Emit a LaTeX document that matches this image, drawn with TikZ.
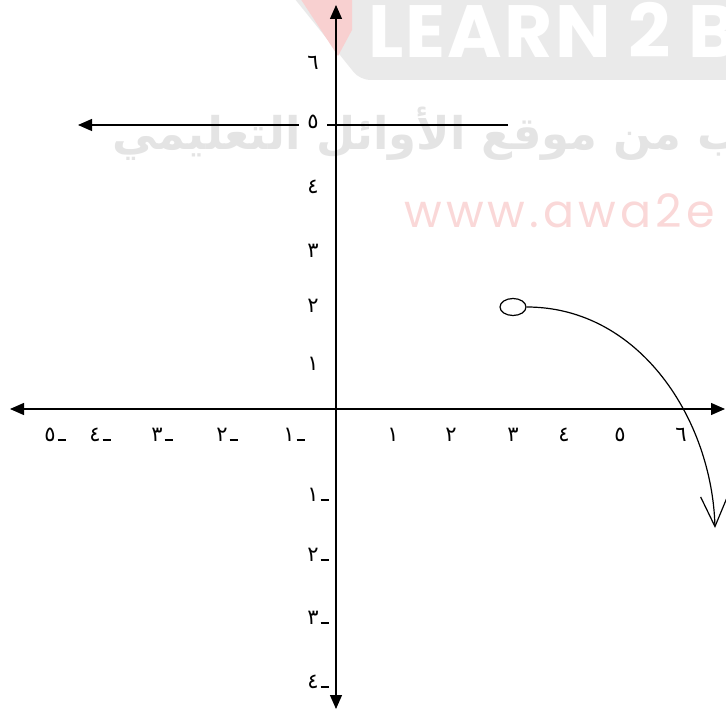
\documentclass[tikz,border=0pt]{standalone}
\usepackage{fontspec}
\usetikzlibrary{arrows.meta,shapes.geometric}
\TeXXeTstate=1
\newfontfamily\digitfont[Script=Arabic]{DejaVu Sans}
\newfontfamily\arabicfont[Script=Arabic]{DejaVu Sans}
\newfontfamily\wmfont[LetterSpace=3]{Poppins}
\newfontfamily\wmfontsp[LetterSpace=9]{Poppins}
\definecolor{wmgray}{RGB}{234,234,234}
\definecolor{wmtext}{RGB}{228,228,228}
\definecolor{wmpink}{RGB}{250,216,216}
\definecolor{wmred}{RGB}{248,208,208}
\newcommand{\negdash}{\kern2pt\rule{8pt}{1.8pt}}
\begin{document}
\begin{tikzpicture}[x=1pt,y=-1pt,
  axis/.style={line width=1.3pt,{Triangle[length=14pt,width=12pt]}-{Triangle[length=14pt,width=12pt]}},
  halfline/.style={line width=1.2pt,-{Triangle[length=14pt,width=12pt]}},
  curveline/.style={line width=1.2pt,-{Straight Barb[length=30pt,width=27pt,line width=1.2pt]}},
  lab/.style={font=\digitfont\fontsize{21}{21}\selectfont,inner sep=0pt,anchor=base},
  openpt/.style={draw,ellipse,line width=1.2pt,minimum width=26pt,minimum height=17pt,inner sep=0pt}]
\useasboundingbox (0,0) rectangle (726,711);
\clip (0,0) rectangle (726,711);
% watermark
\fill[wmgray,rounded corners=10pt] (286,-12) -- (745,-12) -- (745,80) -- (360,80) -- cycle;
\fill[wmred] (300,-2) -- (352,-2) -- (352,30) -- (338,56) -- cycle;
\node[anchor=base west,text=white,inner sep=0pt,font=\wmfont\bfseries\fontsize{74}{74}\selectfont] (wm1) at (368,58) {LEARN 2 BE};
\node[anchor=base west,text=wmtext,inner sep=0pt,font=\arabicfont\bfseries\fontsize{45}{45}\selectfont] (wm2) at (112,150) {\beginR ـب من موقع الأوائل التعليمي\endR};
\node[anchor=base west,text=wmpink,inner sep=0pt,font=\wmfontsp\fontsize{46}{46}\selectfont] (wm3) at (404,228) {www.awa2e};
% axes
\coordinate (xl) at (10,409);
\coordinate (xr) at (725,409);
\coordinate (yt) at (336,5);
\coordinate (yb) at (336,709);
\draw[axis] (xl) -- (xr);
\draw[axis] (yb) -- (yt);
% horizontal half line y=5
\coordinate (h1) at (508,125);
\coordinate (h2) at (78,125);
\draw[halfline] (h1) -- (h2);
% x labels
\node[lab] (x1) at (393,441) {١};
\node[lab] (x2) at (451,441) {٢};
\node[lab] (x3) at (513,441) {٣};
\node[lab] (x4) at (564,441) {٤};
\node[lab] (x5) at (620,441) {٥};
\node[lab] (x6) at (681,441) {٦};
\node[lab] (xm1) at (294,441) {١\negdash};
\node[lab] (xm2) at (227,441) {٢\negdash};
\node[lab] (xm3) at (162,441) {٣\negdash};
\node[lab] (xm4) at (100,441) {٤\negdash};
\node[lab] (xm5) at (55,441) {٥\negdash};
% y labels
\node[lab] (y6) at (313,70) {٦};
\node[lab,fill=white,inner xsep=8pt] (y5) at (313,129) {٥};
\node[lab] (y4) at (313,194) {٤};
\node[lab] (y3) at (313,258) {٣};
\node[lab] (y2) at (313,313) {٢};
\node[lab] (y1) at (313,371) {١};
\node[lab] (ym1) at (318,501) {١\negdash};
\node[lab] (ym2) at (318,561) {٢\negdash};
\node[lab] (ym3) at (318,624) {٣\negdash};
\node[lab] (ym4) at (318,688) {٤\negdash};
% open point and curve
\node[openpt] (c) at (513,307) {};
\coordinate (tip) at (715,528);
\draw[curveline] (c.east) .. controls (640,307) and (712,420) .. (tip);
\end{tikzpicture}
\end{document}
